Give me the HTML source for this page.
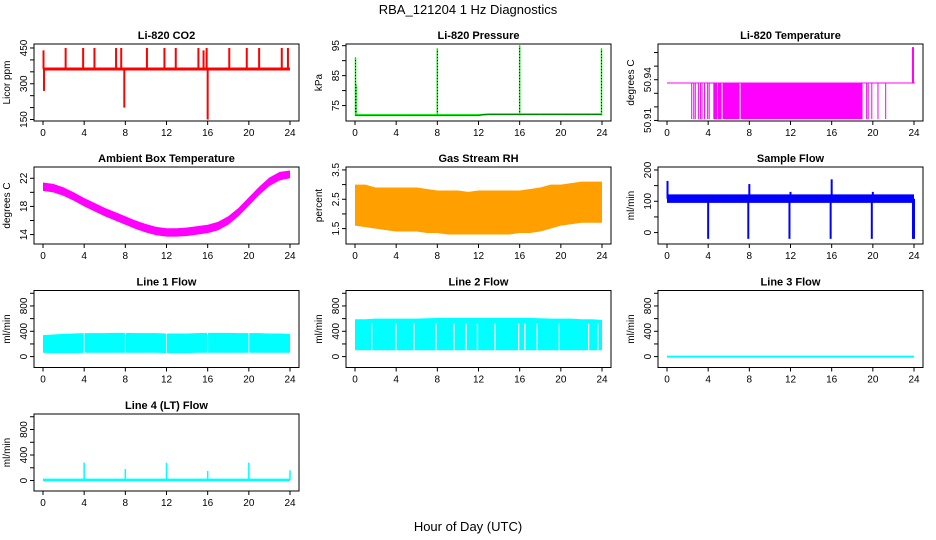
<!DOCTYPE html>
<html><head><meta charset="utf-8">
<style>
html,body{margin:0;padding:0;background:#fff;}
svg{display:block;font-family:"Liberation Sans",sans-serif;}
</style></head>
<body>
<svg id="chart" width="936" height="540" viewBox="0 0 936 540">
<text x="468" y="14" text-anchor="middle" font-size="13">RBA_121204  1 Hz Diagnostics</text>
<text x="468" y="531" text-anchor="middle" font-size="13">Hour of Day (UTC)</text>
</svg>
<script>
// ---- data ----
const hours = [0,1,2,3,4,5,6,7,8,9,10,11,12,13,14,15,16,17,18,19,20,21,22,23,24];
const xTicks = [0,4,8,12,16,20,24];

const co2Base = [362,362,362,362,362,362,362,362,362,362,362,362,362,362,362,362,362,362,362,362,362,362,362,362,362];
const co2SpikeHours = [0.05,0.1,2.2,3.9,5.0,7.1,7.6,7.9,10.1,11.8,12.9,15.1,15.6,15.9,16.0,18.1,19.8,21.0,23.2,23.8];
const co2SpikeValues = [440,270,450,450,450,450,450,200,450,450,450,450,440,450,150,450,450,450,450,450];

const pressBase = [71.8,71.8,71.8,71.8,71.8,71.8,71.8,71.8,71.8,71.8,71.8,71.8,71.8,72.1,72.1,72.1,72.1,72.1,72.1,72.1,72.1,72.1,72.1,72.1,72.1];
const pressSpikeHours = [0.05,0.1,8.0,16.0,23.95];
const pressSpikeValues = [91,82,94,95,94];

const tempBase = 50.9376;
const tempLow = 50.911;
const tempDropStart = [2.35,2.55,2.7,3.0,3.2,3.35,3.6,3.9,4.05,4.5,4.95,5.4,7.15,19.35,19.5,19.85,20.45,21.2];
const tempDropEnd   = [2.45,2.6,2.75,3.05,3.25,3.45,3.65,3.95,4.1,4.9,5.3,7.05,19.0,19.4,19.55,19.9,20.5,21.25];
const tempSpikeHour = [23.9];
const tempSpikeValue = [50.964];

const ambientLo = [20.2,20.0,19.5,18.8,18.0,17.3,16.6,16.0,15.4,14.8,14.3,13.9,13.7,13.7,13.8,14.0,14.2,14.6,15.4,16.6,18.1,19.6,20.9,21.7,22.0];
const ambientHi = [21.4,21.2,20.7,20.0,19.2,18.5,17.8,17.2,16.6,16.0,15.5,15.1,14.9,14.9,15.0,15.2,15.4,15.8,16.6,17.8,19.3,20.8,22.1,22.9,23.1];

const rhLo = [1.6,1.55,1.5,1.45,1.4,1.4,1.4,1.35,1.35,1.3,1.3,1.3,1.3,1.3,1.3,1.3,1.35,1.35,1.4,1.5,1.6,1.65,1.7,1.7,1.7];
const rhHi = [3.0,3.0,2.9,2.9,2.9,2.9,2.9,2.85,2.8,2.8,2.8,2.75,2.8,2.8,2.8,2.8,2.8,2.85,2.9,3.0,3.0,3.05,3.1,3.1,3.1];

const sampleLo = [95,95,95,95,95,95,95,95,95,95,95,95,95,95,95,95,95,95,95,95,95,95,95,95,95];
const sampleHi = [122,122,122,122,122,122,122,122,122,122,122,122,122,122,122,122,122,122,122,122,122,122,122,122,122];
const sampleSpikeHours = [0.05,4.0,7.9,8.0,11.9,12.0,15.9,16.0,19.9,20.0,23.9,24.0];
const sampleSpikeValues = [165,-20,-20,155,-20,130,-20,170,-20,130,-20,-20];

const line1Lo = [60,55,55,55,60,60,60,60,60,60,60,60,55,55,55,60,60,60,60,60,60,60,60,60,60];
const line1Hi = [340,350,360,365,370,370,370,375,375,370,370,370,365,365,365,370,375,375,375,370,370,370,365,365,360];
const line1Gaps = [4.0,8.0,12.0,16.0,20.0];

const line2Lo = [100,100,100,100,100,100,100,100,100,100,100,100,100,100,100,100,100,100,100,100,100,100,100,100,100];
const line2Hi = [590,590,600,600,600,600,600,605,610,610,610,610,610,610,610,610,610,610,605,600,600,600,590,590,580];
const line2Gaps = [1.62,3.98,5.73,7.87,9.62,10.8,11.9,13.6,15.9,16.5,17.7,19.85,22.7,23.6];

const line3Values = [0,0,0,0,0,0,0,0,0,0,0,0,0,0,0,0,0,0,0,0,0,0,0,0,0];

const line4Base = [10,10,10,10,10,10,10,10,10,10,10,10,10,10,10,10,10,10,10,10,10,10,10,10,10];
const line4SpikeHours = [4.0,8.0,12.0,16.0,20.0,24.0];
const line4SpikeValues = [280,180,280,150,280,160];

// ---- layout ----
const NS = "http://www.w3.org/2000/svg";
const svg = document.getElementById("chart");
const colL = [34,346,658], colW = 265;
const rowT = [44,167,290.5,414], rowH = 77;

function mk(tag, attrs, parent){
  const e = document.createElementNS(NS, tag);
  for (const k in attrs) e.setAttribute(k, attrs[k]);
  (parent||svg).appendChild(e);
  return e;
}

function panel(col,row,title,ylab,lo,hi,ticks,labels,name){
  const L=colL[col], T=rowT[row], B=T+rowH, R=L+colW;
  const g = mk("g",{});
  
  
  const xs = h => L+9 + h*(colW-18)/24;
  const ys = v => B - (v-lo)/(hi-lo)*rowH;
  const t = mk("text",{x:(L+R)/2,y:T-5,"text-anchor":"middle","font-size":"11","font-weight":"bold"},g);
  t.textContent = title;
  
  
  const yl = mk("text",{transform:`translate(${L-24},${(T+B)/2}) rotate(-90)`,"text-anchor":"middle","font-size":"10"},g);
  yl.textContent = ylab;
  
  
  const ya = mk("g",{},g);
  
  
  mk("line",{x1:L,x2:L,y1:ys(ticks[0]),y2:ys(ticks[ticks.length-1]),stroke:"#000"},ya);
  ticks.forEach(v=>{
    mk("line",{x1:L-4,x2:L,y1:ys(v),y2:ys(v),stroke:"#000"},ya);
  });
  labels.forEach(v=>{
    const tt = mk("text",{transform:`translate(${L-7},${ys(v)}) rotate(-90)`,"text-anchor":"middle","font-size":"10"},ya);
    tt.textContent = String(v);
  });
  const xa = mk("g",{},g);
  
  
  mk("line",{x1:xs(0),x2:xs(24),y1:B,y2:B,stroke:"#000"},xa);
  xTicks.forEach(h=>{
    mk("line",{x1:xs(h),x2:xs(h),y1:B,y2:B+4,stroke:"#000"},xa);
    const tt = mk("text",{x:xs(h),y:B+15,"text-anchor":"middle","font-size":"10"},xa);
    tt.textContent = String(h);
  });
  const plot = mk("g",{},g);
  
  
  mk("rect",{x:L,y:T,width:colW,height:rowH,fill:"none",stroke:"#000"},g);
  return {g:plot,xs,ys};
}

function band(p,lo,hi,fill){
  let pts = hours.map((h,i)=>p.xs(h)+","+p.ys(hi[i]));
  for(let i=hours.length-1;i>=0;i--) pts.push(p.xs(hours[i])+","+p.ys(lo[i]));
  const e = mk("polygon",{points:pts.join(" "),fill:fill},p.g);
  
  
  return e;
}
function polyline(p,vals,color,w){
  const e = mk("polyline",{points:hours.map((h,i)=>p.xs(h)+","+p.ys(vals[i])).join(" "),fill:"none",stroke:color,"stroke-width":w},p.g);
  
  
}
function spikes(p,hs,vs,base,color,w,dash){
  hs.forEach((h,i)=>{
    const a = {x1:p.xs(h),x2:p.xs(h),y1:p.ys(base),y2:p.ys(vs[i]),stroke:color,"stroke-width":w};
    if(dash) a["stroke-dasharray"]=dash;
    const e = mk("line",a,p.g);
    
    
  });
}
function gaps(p,hs,lo,hi,w){
  hs.forEach(h=>{
    const e = mk("line",{x1:p.xs(h),x2:p.xs(h),y1:p.ys(hi),y2:p.ys(lo),stroke:"#fff","stroke-width":w},p.g);
    
    
  });
}

let p = panel(0,0,"Li-820 CO2","Licor ppm",143.75,466.7,[150,200,250,300,350,400,450],[150,300,450],"co2-panel");
spikes(p,co2SpikeHours,co2SpikeValues,362,"#ff0000",2);
polyline(p,co2Base,"#ff0000",3);

p = panel(1,0,"Li-820 Pressure","kPa",69.85,95.56,[75,80,85,90,95],[75,85,95],"pressure-panel");
spikes(p,pressSpikeHours,pressSpikeValues,71.8,"#00ff00",1.5);
spikes(p,pressSpikeHours,pressSpikeValues,71.8,"#000",1,"1,2");
polyline(p,pressBase,"#00ff00",2);
polyline(p,pressBase,"#000",0.5);

p = panel(2,0,"Li-820 Temperature","degrees C",50.9096,50.9663,[50.91,50.92,50.93,50.94,50.95,50.96],[50.91,50.94],"li820-temperature-panel");
tempDropStart.forEach((s,i)=>{
  const e = mk("rect",{x:p.xs(s),y:p.ys(tempBase),width:Math.max(1,p.xs(tempDropEnd[i])-p.xs(s)),height:p.ys(tempLow)-p.ys(tempBase),fill:"#ff00ff"},p.g);
  
  
});
spikes(p,tempSpikeHour,tempSpikeValue,tempBase,"#ff00ff",2);
mk("line",{x1:p.xs(0),x2:p.xs(24.1),y1:p.ys(tempBase),y2:p.ys(tempBase),stroke:"#ff00ff","stroke-width":1},p.g);

p = panel(0,1,"Ambient Box Temperature","degrees C",12.66,23.6,[14,16,18,20,22],[14,18,22],"ambient-temperature-panel");
band(p,ambientLo,ambientHi,"#ff00ff");

p = panel(1,1,"Gas Stream RH","percent",0.975,3.60,[1.5,2.0,2.5,3.0,3.5],[1.5,2.5,3.5],"gas-stream-rh-panel");
band(p,rhLo,rhHi,"#ff9f00");

p = panel(2,1,"Sample Flow","ml/min",-36.5,209.5,[0,50,100,150,200],[0,100,200],"sample-flow-panel");
spikes(p,sampleSpikeHours,sampleSpikeValues,108,"#0000ff",2);
band(p,sampleLo,sampleHi,"#0000ff");

p = panel(0,2,"Line 1 Flow","ml/min",-172,1044,[0,200,400,600,800,1000],[0,400,800],"line1-flow-panel");
band(p,line1Lo,line1Hi,"#00ffff");
gaps(p,line1Gaps,40,400,0.8);

p = panel(1,2,"Line 2 Flow","ml/min",-172,1044,[0,200,400,600,800,1000],[0,400,800],"line2-flow-panel");
band(p,line2Lo,line2Hi,"#00ffff");
gaps(p,line2Gaps,110,520,1.3);

p = panel(2,2,"Line 3 Flow","ml/min",-172,1044,[0,200,400,600,800,1000],[0,400,800],"line3-flow-panel");
polyline(p,line3Values,"#00ffff",2);

p = panel(0,3,"Line 4 (LT) Flow","ml/min",-164,1043,[0,200,400,600,800,1000],[0,400,800],"line4-flow-panel");
spikes(p,line4SpikeHours,line4SpikeValues,10,"#00ffff",1.5);
polyline(p,line4Base,"#00ffff",2.5);
</script>
</body></html>
